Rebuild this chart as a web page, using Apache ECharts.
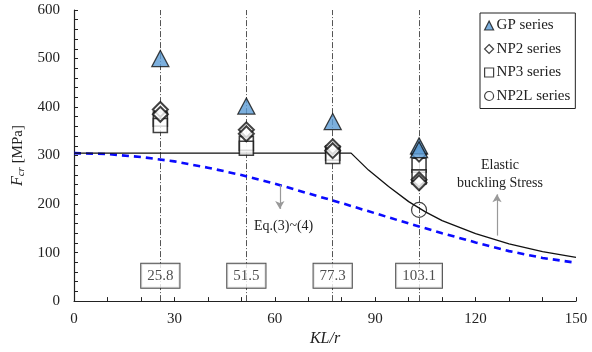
<!DOCTYPE html>
<html>
<head>
<meta charset="utf-8">
<script src="https://cdn.jsdelivr.net/npm/echarts@6/dist/echarts.min.js"></script>
<style>
  html, body { margin: 0; padding: 0; background: #fff; }
  #chart { width: 592px; height: 352px; }
</style>
</head>
<body>
<div id="chart"></div>
<script>
// slenderness values of the tested columns
const slenderness = [25.8, 51.5, 77.3, 103.1];
const slenderLabels = ['25.8', '51.5', '77.3', '103.1'];

// test results [KL/r, Fcr]
const gpData = [[25.8, 500], [51.5, 402], [77.3, 370], [103.1, 320], [103.1, 312]];
const np2Data = [[25.8, 395], [25.8, 385], [51.5, 353], [51.5, 345], [77.3, 318], [77.3, 310], [103.1, 303], [103.1, 250], [103.1, 244]];
const np3Data = [[25.8, 375], [25.8, 362], [51.5, 325], [51.5, 315], [77.3, 305], [77.3, 298], [103.1, 280], [103.1, 256]];
const np2lData = [[103.1, 188]];

// curves
const elasticX = [0, 82.8, 88, 94, 100, 105, 110, 120, 130, 140, 150];
const elasticY = [305, 305, 270, 236, 205, 184, 166, 139, 118, 102, 90];
const eqX = [0, 10, 20, 30, 40, 50, 60, 70, 80, 90, 100, 110, 120, 130, 140, 150];
const eqY = [305, 303, 297, 288, 275, 260, 242, 222, 202, 181, 160, 140, 121, 103, 89, 79];

const font = 'Liberation Serif';
const chart = echarts.init(document.getElementById('chart'));

chart.setOption({
  animation: false,
  backgroundColor: '#fff',
  textStyle: { fontFamily: font },
  grid: { left: 74, right: 16, top: 10, bottom: 46 },
  legend: {
    orient: 'vertical',
    left: 480, top: 13,
    padding: [5, 5, 5, 4],
    itemWidth: 9, itemHeight: 9, itemGap: 8.5,
    itemStyle: { borderWidth: 1.2 },
    borderColor: '#222', borderWidth: 1,
    backgroundColor: '#fff',
    textStyle: { fontFamily: font, fontSize: 15, color: '#222', padding: [0, 0, 0, -2] },
    data: ['GP series', 'NP2 series', 'NP3 series', 'NP2L series']
  },
  xAxis: {
    type: 'value', min: 0, max: 150, interval: 10,
    name: 'KL/r', nameLocation: 'middle', nameGap: 28,
    nameTextStyle: { fontFamily: font, fontSize: 16, fontStyle: 'italic', color: '#222' },
    axisLine: { lineStyle: { color: '#222', width: 1.2 } },
    axisTick: { inside: true, length: 4, lineStyle: { color: '#222', width: 1 } },
    splitLine: { show: false },
    axisLabel: {
      fontFamily: font, fontSize: 15, color: '#222', margin: 10,
      formatter: v => (v % 30 === 0 ? String(v) : '')
    }
  },
  yAxis: {
    type: 'value', min: 0, max: 600, interval: 20,
    name: '{i|F}{s|cr} [MPa]', nameLocation: 'middle', nameGap: 46, nameRotate: 90,
    nameTextStyle: {
      fontFamily: font, fontSize: 15, color: '#222',
      rich: {
        i: { fontFamily: font, fontSize: 16, fontStyle: 'italic', color: '#222' },
        s: { fontFamily: font, fontSize: 11, fontStyle: 'italic', color: '#222', verticalAlign: 'bottom', padding: [6, 0, 0, 0] }
      }
    },
    axisLine: { show: true, lineStyle: { color: '#222', width: 1.2 } },
    axisTick: { inside: true, length: 4, lineStyle: { color: '#222', width: 1 } },
    splitLine: { show: false },
    axisLabel: {
      fontFamily: font, fontSize: 15, color: '#222', margin: 14,
      formatter: v => (v % 100 === 0 ? String(v) : '')
    }
  },
  graphic: [
    { type: 'text', left: 254, top: 219, style: { text: 'Eq.(3)~(4)', font: '14px "Liberation Serif"', fill: '#222' } },
    { type: 'text', x: 500, y: 165, style: { text: 'Elastic', font: '14px "Liberation Serif"', fill: '#222', align: 'center', verticalAlign: 'middle' } },
    { type: 'text', x: 500, y: 183, style: { text: 'buckling Stress', font: '14px "Liberation Serif"', fill: '#222', align: 'center', verticalAlign: 'middle' } }
  ],
  series: [
    {
      name: 'eq', type: 'line', symbol: 'none', z: 3,
      data: eqX.map((x, i) => [x, eqY[i]]),
      lineStyle: { color: '#0a0aff', width: 2.6, type: [7, 5] }
    },
    {
      name: 'elastic', type: 'line', symbol: 'none', z: 3,
      data: elasticX.map((x, i) => [x, elasticY[i]]),
      lineStyle: { color: '#111', width: 1.3 },
      markLine: {
        silent: true, symbol: ['none', 'arrow'], symbolSize: [7, 8],
        label: { show: false },
        data: [
          [{ coord: [61.5, 239], lineStyle: { color: '#999', width: 1.2, type: 'solid' } }, { coord: [61.5, 190] }],
          [{ coord: [126.4, 135], lineStyle: { color: '#999', width: 1.2, type: 'solid' } }, { coord: [126.4, 220] }]
        ]
      }
    },
    {
      name: 'boxes', type: 'scatter', z: 4,
      symbol: 'rect', symbolSize: 1,
      data: slenderness.map(x => [x, 52]),
      itemStyle: { color: '#fff' },
      label: {
        show: true, position: 'inside', fontFamily: font, fontSize: 15, color: '#222',
        backgroundColor: '#fff', borderColor: '#222', borderWidth: 1,
        padding: [5, 6, 4, 6],
        formatter: p => slenderLabels[p.dataIndex]
      },
      markLine: {
        silent: true, symbol: 'none', z: 1,
        label: { show: false },
        lineStyle: { color: '#555', width: 1, type: [6, 2, 1, 2] },
        data: slenderness.map(x => ({ xAxis: x }))
      }
    },
    {
      name: 'NP3 series', type: 'scatter', z: 5, symbol: 'rect', symbolSize: 14,
      data: np3Data,
      itemStyle: { color: '#fff', borderColor: '#111', borderWidth: 1.6 }
    },
    {
      name: 'NP2 series', type: 'scatter', z: 6, symbol: 'diamond', symbolSize: [15, 15],
      data: np2Data,
      itemStyle: { color: '#fff', borderColor: '#111', borderWidth: 2 }
    },
    {
      name: 'GP series', type: 'scatter', z: 7, symbol: 'triangle', symbolSize: [17, 16],
      data: gpData,
      itemStyle: { color: '#5b9bd5', borderColor: '#111', borderWidth: 1.3 }
    },
    {
      name: 'NP2L series', type: 'scatter', z: 7, symbol: 'circle', symbolSize: 15,
      data: np2lData,
      itemStyle: { color: 'rgba(255,255,255,0)', borderColor: '#111', borderWidth: 1.2 }
    }
  ]
});
</script>
</body>
</html>
